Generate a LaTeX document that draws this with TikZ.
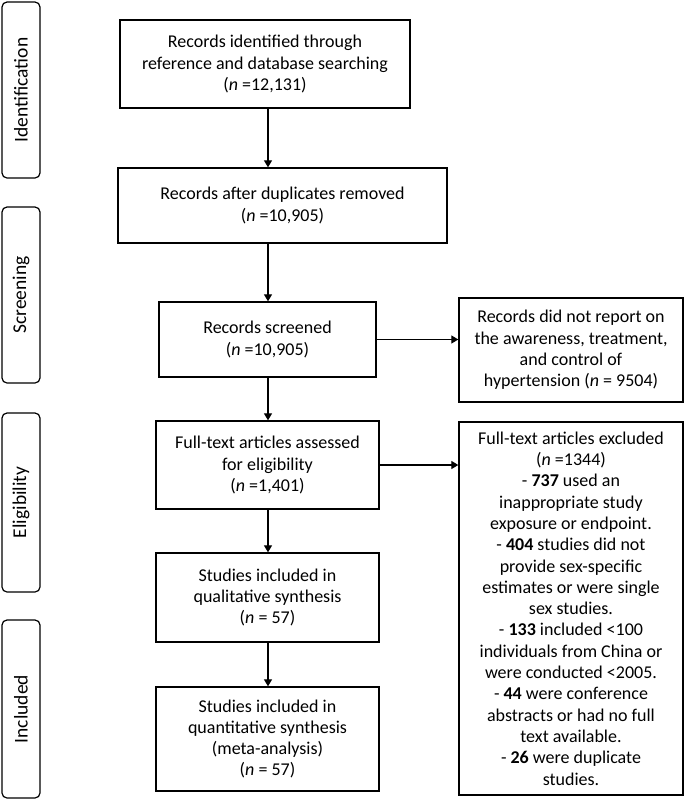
\documentclass[tikz,border=0pt]{standalone}
\usepackage{fontspec}
\setmainfont{Carlito}
\usetikzlibrary{arrows.meta}
\begin{document}
\begin{tikzpicture}[x=1pt,y=-1pt,
  box/.style={draw,line width=1.4pt,align=center,inner sep=0pt,font=\fontsize{18}{21.3}\selectfont},
  side/.style={draw,line width=1.2pt,rounded corners=5pt,inner sep=0pt,minimum width=38pt,font=\fontsize{19.5}{22}\selectfont},
  arr/.style={line width=1.3pt,-{Triangle[width=8pt,length=7pt]}}]
\useasboundingbox (0,0) rectangle (685,806);
% side labels
\node[side,minimum height=176pt] (s1) at (21,90) {\rotatebox{90}{Identification}};
\node[side,minimum height=176pt] (s2) at (21,295) {\rotatebox{90}{Screening}};
\node[side,minimum height=179pt] (s3) at (21,502.5) {\rotatebox{90}{Eligibility}};
\node[side,minimum height=178pt] (s4) at (21,709) {\rotatebox{90}{Included}};
% main boxes
\node[box,minimum width=290pt,minimum height=88pt] (b1) at (265,64) {Records identified through\\reference and database searching\\(\textit{n} =12,131)};
\node[box,minimum width=329pt,minimum height=75pt] (b2) at (282.5,205.5) {Records after duplicates removed\\(\textit{n} =10,905)};
\node[box,minimum width=217pt,minimum height=75pt] (b3) at (267.5,339.5) {Records screened\\(\textit{n} =10,905)};
\node[box,minimum width=223pt,minimum height=88pt] (b4) at (267.5,465) {Full-text articles assessed\\for eligibility\\(\textit{n} =1,401)};
\node[box,minimum width=223pt,minimum height=89pt] (b5) at (267.5,597.5) {Studies included in\\qualitative synthesis\\(\textit{n} = 57)};
\node[box,minimum width=223pt,minimum height=104pt] (b6) at (267.5,739) {Studies included in\\quantitative synthesis\\(meta-analysis)\\(\textit{n} = 57)};
% right boxes
\node[box,minimum width=224pt,minimum height=104pt] (r1) at (571,350) {Records did not report on\\the awareness, treatment,\\and control of\\hypertension (\textit{n} = 9504)};
\node[box,minimum width=224pt,minimum height=373pt] (r2) at (571,608.5) {Full-text articles excluded\\(\textit{n} =1344)\\- \textbf{737} used an\\inappropriate study\\exposure or endpoint.\\- \textbf{404} studies did not\\provide sex-specific\\estimates or were single\\sex studies.\\- \textbf{133} included <100\\individuals from China or\\were conducted <2005.\\- \textbf{44} were conference\\abstracts or had no full\\text available.\\- \textbf{26} were duplicate\\studies.};
% arrows
\coordinate (ax) at (268,0);
\draw[arr] (b1.south -| ax) -- (b2.north -| ax);
\draw[arr] (b2.south -| ax) -- (b3.north -| ax);
\draw[arr] (b3.south -| ax) -- (b4.north -| ax);
\draw[arr] (b4.south -| ax) -- (b5.north -| ax);
\draw[arr] (b5.south -| ax) -- (b6.north -| ax);
\draw[arr] (b3.east) -- (b3.east -| r1.west);
\draw[arr] (b4.east) -- (b4.east -| r2.west);
\end{tikzpicture}
\end{document}
